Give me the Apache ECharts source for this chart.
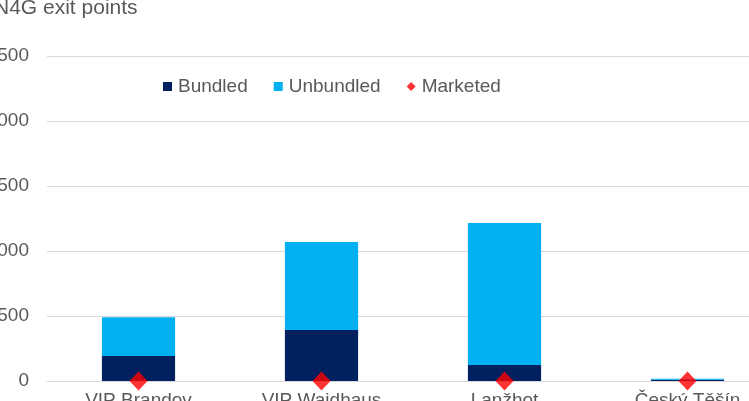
<!DOCTYPE html>
<html>
<head>
<meta charset="utf-8">
<script src="https://cdn.jsdelivr.net/npm/echarts@6/dist/echarts.min.js"></script>
<style>
html,body{margin:0;padding:0;overflow:hidden;background:#fff;width:749px;height:401px;}
#c{position:absolute;left:-20px;top:0;width:820px;height:401px;}
</style>
</head>
<body>
<div id="c"></div>
<script>
const categories = ['VIP Brandov', 'VIP Waidhaus', 'Lanžhot', 'Český Těšín'];
const bundled = [193, 392, 123, 10];
const unbundled = [297, 677, 1092, 8];
const marketed = [0, 0, 0, 0];
const yTicks = {min: 0, max: 2500, interval: 500};

const chart = echarts.init(document.getElementById('c'), null, {renderer: 'canvas'});
const txt = '#595959';
const font = 'Arial, "Liberation Sans", sans-serif';
chart.setOption({
  animation: false,
  title: {
    text: 'N4G exit points',
    left: 14, top: -2, padding: 0,
    textStyle: {fontFamily: font, fontSize: 21, fontWeight: 'normal', color: txt}
  },
  legend: {
    left: 183, top: 77, padding: 0,
    itemWidth: 9, itemHeight: 9, itemGap: 26,
    textStyle: {fontFamily: font, fontSize: 19, color: txt, padding: [0, 0, 0, 1]},
    data: [
      {name: 'Bundled', icon: 'rect'},
      {name: 'Unbundled', icon: 'rect'},
      {name: 'Marketed', icon: 'diamond'}
    ]
  },
  grid: {left: 67, right: 21, top: 56, bottom: 20, containLabel: false, outerBoundsMode: 'none'},
  xAxis: {
    type: 'category',
    data: categories,
    axisLine: {lineStyle: {color: '#d9d9d9', width: 1}},
    axisTick: {show: false},
    axisLabel: {fontFamily: font, fontSize: 19, color: txt, margin: 10}
  },
  yAxis: {
    type: 'value',
    min: yTicks.min, max: yTicks.max, interval: yTicks.interval,
    axisLine: {show: false},
    axisTick: {show: false},
    splitLine: {lineStyle: {color: '#d9d9d9', width: 1}},
    axisLabel: {fontFamily: font, fontSize: 19, color: txt, margin: 18}
  },
  series: [
    {name: 'Bundled', type: 'bar', stack: 'cap', data: bundled, barWidth: '40%',
     itemStyle: {color: '#002060'}},
    {name: 'Unbundled', type: 'bar', stack: 'cap', data: unbundled, barWidth: '40%',
     itemStyle: {color: '#00B0F0'}},
    {name: 'Marketed', type: 'scatter', data: marketed, symbol: 'diamond',
     symbolSize: [18, 19], itemStyle: {color: '#FF0000'}, z: 5}
  ]
});
</script>
</body>
</html>
